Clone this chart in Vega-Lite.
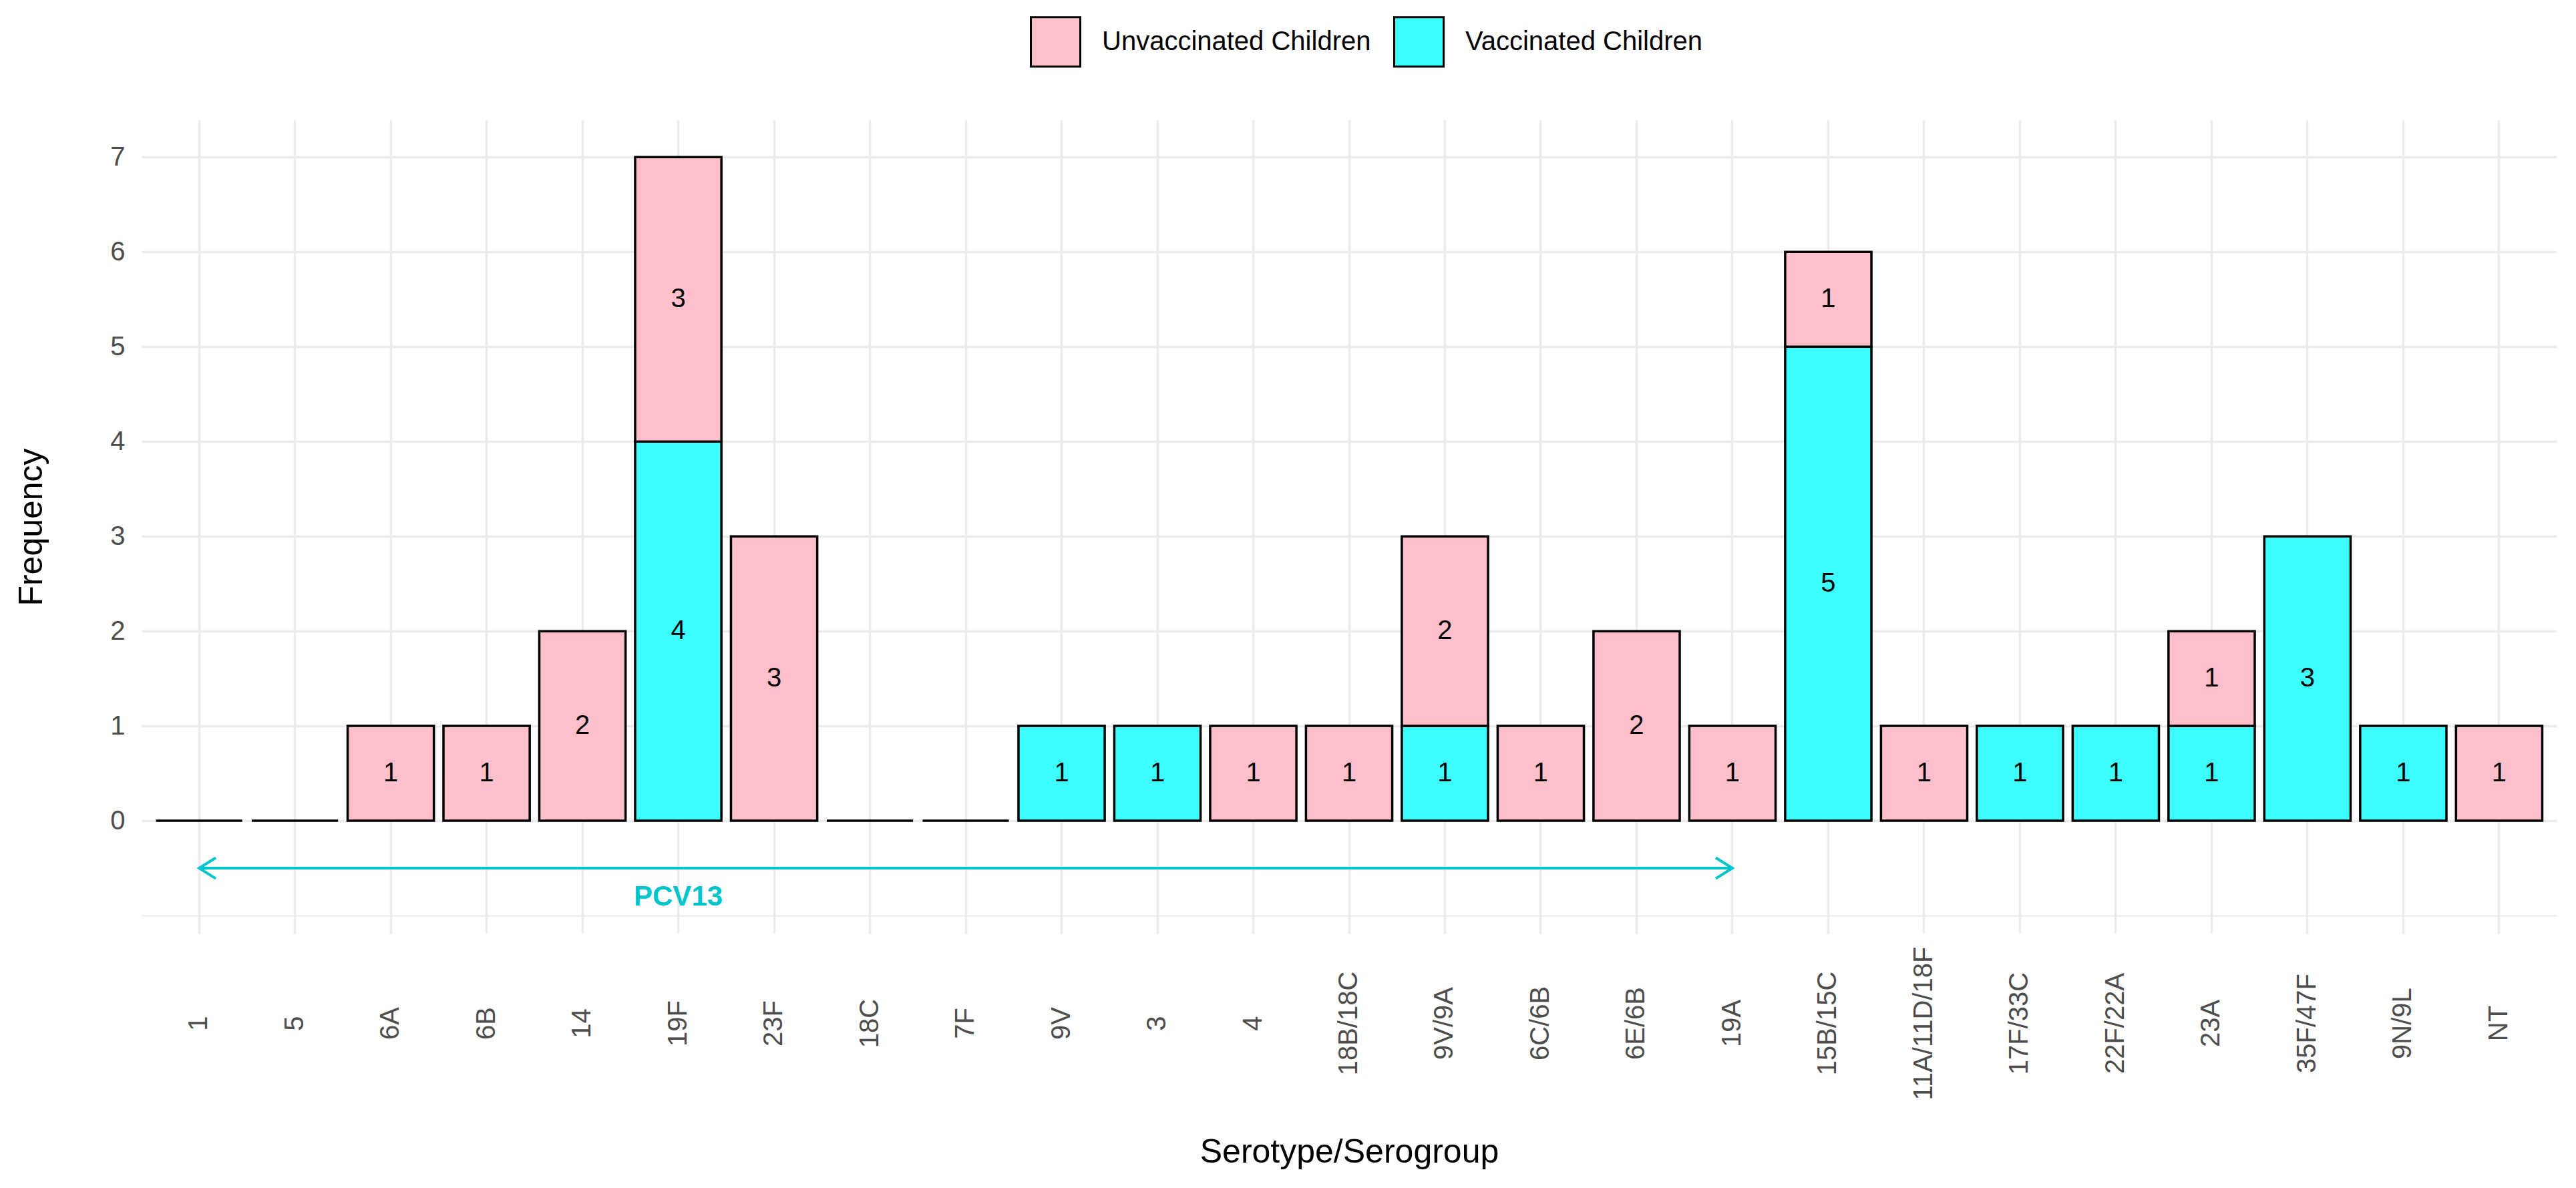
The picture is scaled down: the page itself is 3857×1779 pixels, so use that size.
{
  "$schema": "https://vega.github.io/schema/vega-lite/v6.json",
  "width": 3616,
  "height": 1218,
  "autosize": "none",
  "padding": {"left": 212, "top": 180, "right": 29, "bottom": 381},
  "background": "white",
  "config": {
    "font": "Liberation Sans",
    "view": {"stroke": null}
  },
  "datasets": {
    "counts": [
      {"serotype": "1", "group": "Unvaccinated Children", "count": 0},
      {"serotype": "5", "group": "Unvaccinated Children", "count": 0},
      {"serotype": "6A", "group": "Unvaccinated Children", "count": 1},
      {"serotype": "6B", "group": "Unvaccinated Children", "count": 1},
      {"serotype": "14", "group": "Unvaccinated Children", "count": 2},
      {"serotype": "19F", "group": "Vaccinated Children", "count": 4},
      {"serotype": "19F", "group": "Unvaccinated Children", "count": 3},
      {"serotype": "23F", "group": "Unvaccinated Children", "count": 3},
      {"serotype": "18C", "group": "Unvaccinated Children", "count": 0},
      {"serotype": "7F", "group": "Unvaccinated Children", "count": 0},
      {"serotype": "9V", "group": "Vaccinated Children", "count": 1},
      {"serotype": "3", "group": "Vaccinated Children", "count": 1},
      {"serotype": "4", "group": "Unvaccinated Children", "count": 1},
      {"serotype": "18B/18C", "group": "Unvaccinated Children", "count": 1},
      {"serotype": "9V/9A", "group": "Vaccinated Children", "count": 1},
      {"serotype": "9V/9A", "group": "Unvaccinated Children", "count": 2},
      {"serotype": "6C/6B", "group": "Unvaccinated Children", "count": 1},
      {"serotype": "6E/6B", "group": "Unvaccinated Children", "count": 2},
      {"serotype": "19A", "group": "Unvaccinated Children", "count": 1},
      {"serotype": "15B/15C", "group": "Vaccinated Children", "count": 5},
      {"serotype": "15B/15C", "group": "Unvaccinated Children", "count": 1},
      {"serotype": "11A/11D/18F", "group": "Unvaccinated Children", "count": 1},
      {"serotype": "17F/33C", "group": "Vaccinated Children", "count": 1},
      {"serotype": "22F/22A", "group": "Vaccinated Children", "count": 1},
      {"serotype": "23A", "group": "Vaccinated Children", "count": 1},
      {"serotype": "23A", "group": "Unvaccinated Children", "count": 1},
      {"serotype": "35F/47F", "group": "Vaccinated Children", "count": 3},
      {"serotype": "9N/9L", "group": "Vaccinated Children", "count": 1},
      {"serotype": "NT", "group": "Unvaccinated Children", "count": 1}
    ],
    "span": [
      {"from": "1", "to": "19A", "y": -0.5}
    ],
    "heads": [
      {"serotype": "1", "y": -0.5, "end": "left"},
      {"serotype": "19A", "y": -0.5, "end": "right"}
    ],
    "note": [
      {"serotype": "19F", "y": -0.8, "label": "PCV13"}
    ]
  },
  "layer": [
    {
      "data": {"name": "counts"},
      "mark": {"type": "bar", "stroke": "black", "strokeWidth": 3.5},
      "encoding": {
        "x": {
          "field": "serotype",
          "type": "nominal",
          "scale": {
            "domain": ["1", "5", "6A", "6B", "14", "19F", "23F", "18C", "7F", "9V", "3", "4", "18B/18C", "9V/9A", "6C/6B", "6E/6B", "19A", "15B/15C", "11A/11D/18F", "17F/33C", "22F/22A", "23A", "35F/47F", "9N/9L", "NT"],
            "paddingInner": 0.1,
            "paddingOuter": 0.15
          },
          "title": "Serotype/Serogroup",
          "axis": {
            "labelAngle": 270,
            "labelAlign": "center",
            "labelBaseline": "middle",
            "labelPadding": 134,
            "labelFontSize": 40,
            "labelColor": "#4D4D4D",
            "labelLimit": 1000,
            "labelOverlap": false,
            "ticks": false,
            "domain": false,
            "grid": true,
            "bandPosition": 0.5,
            "gridColor": "#EBEBEB",
            "gridWidth": 3.5,
            "titleFontSize": 50,
            "titleFontWeight": "normal",
            "titleColor": "black",
            "titleY": 342,
            "titleBaseline": "alphabetic"
          }
        },
        "y": {
          "field": "count",
          "type": "quantitative",
          "stack": "zero",
          "scale": {"domain": [-1.19, 7.39], "nice": false, "zero": false},
          "title": "Frequency",
          "axis": {
            "values": [-1, -0.5, 0, 0.5, 1, 1.5, 2, 2.5, 3, 3.5, 4, 4.5, 5, 5.5, 6, 6.5, 7],
            "format": "d",
            "labelExpr": "datum.value >= 0 && datum.value % 1 === 0 ? datum.label : ''",
            "labelFontSize": 40,
            "labelColor": "#4D4D4D",
            "labelPadding": 25,
            "ticks": false,
            "domain": false,
            "gridColor": "#EBEBEB",
            "gridWidth": {"condition": {"test": "datum.value >= 0 && datum.value % 1 === 0", "value": 3.5}, "value": 2},
            "titleFontSize": 50,
            "titleFontWeight": "normal",
            "titleColor": "black",
            "titleAngle": 270,
            "titleX": -150,
            "titleBaseline": "alphabetic"
          }
        },
        "color": {
          "field": "group",
          "type": "nominal",
          "scale": {"domain": ["Unvaccinated Children", "Vaccinated Children"], "range": ["#FFC0CB", "#3DFFFF"]},
          "legend": {
            "title": null,
            "orient": "none",
            "direction": "horizontal",
            "legendX": 1330,
            "legendY": -156,
            "symbolType": "square",
            "symbolSize": 5476,
            "symbolStrokeColor": "black",
            "symbolStrokeWidth": 3,
            "symbolOpacity": 1,
            "labelFontSize": 40,
            "labelColor": "black",
            "labelOffset": 31,
            "labelLimit": 1000,
            "columnPadding": 28
          }
        },
        "order": {"field": "group", "sort": "descending"}
      }
    },
    {
      "data": {"name": "counts"},
      "transform": [{"filter": "datum.count > 0"}],
      "mark": {"type": "text", "fontSize": 40, "color": "black", "baseline": "middle"},
      "encoding": {
        "x": {"field": "serotype", "type": "nominal"},
        "y": {"field": "count", "type": "quantitative", "stack": "zero", "bandPosition": 0.5},
        "detail": {"field": "group"},
        "order": {"field": "group", "sort": "descending"},
        "text": {"field": "count", "type": "quantitative"}
      }
    },
    {
      "data": {"name": "span"},
      "mark": {"type": "rule", "color": "#00C5CD", "strokeWidth": 4},
      "encoding": {
        "x": {"field": "from", "type": "nominal", "bandPosition": 0.5},
        "x2": {"field": "to"},
        "y": {"field": "y", "type": "quantitative"}
      }
    },
    {
      "data": {"name": "heads"},
      "mark": {"type": "point", "filled": false, "stroke": "#00C5CD", "strokeWidth": 4, "size": 975, "opacity": 1},
      "encoding": {
        "x": {"field": "serotype", "type": "nominal"},
        "y": {"field": "y", "type": "quantitative"},
        "shape": {
          "field": "end",
          "type": "nominal",
          "scale": {"domain": ["left", "right"], "range": ["M 1.6 -1 L 0 0 L 1.6 1", "M -1.6 -1 L 0 0 L -1.6 1"]},
          "legend": null
        }
      }
    },
    {
      "data": {"name": "note"},
      "mark": {"type": "text", "fontSize": 42, "fontWeight": "bold", "color": "#00C5CD", "baseline": "middle"},
      "encoding": {
        "x": {"field": "serotype", "type": "nominal"},
        "y": {"field": "y", "type": "quantitative"},
        "text": {"field": "label"}
      }
    }
  ]
}
